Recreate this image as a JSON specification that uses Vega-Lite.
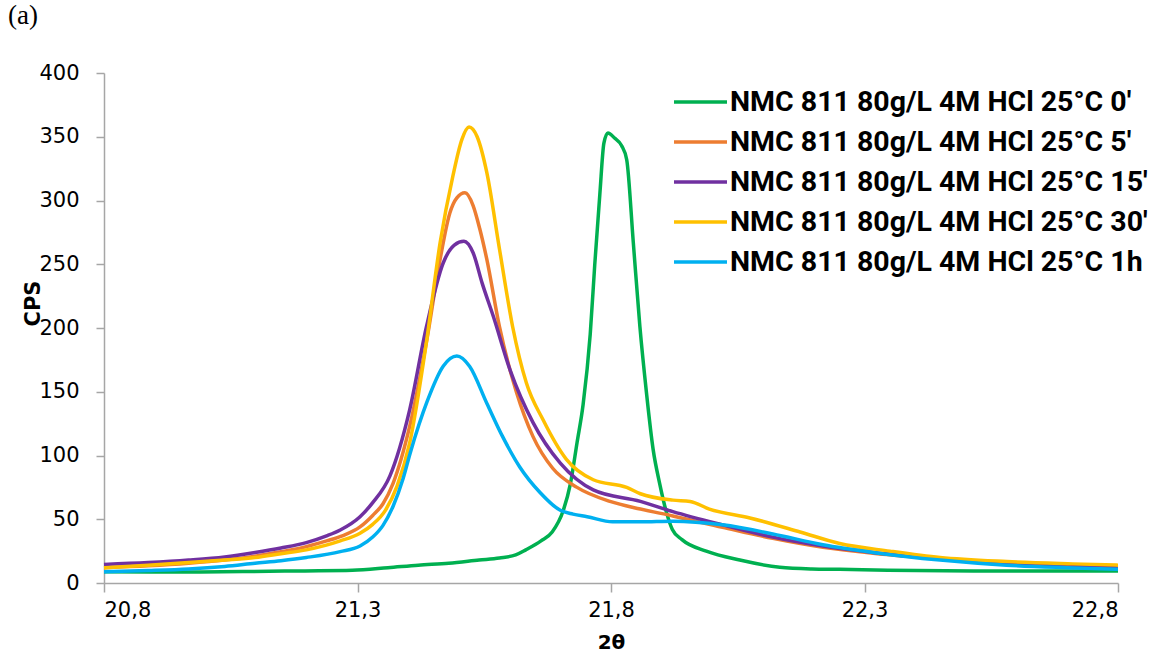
{
  "$schema": "https://vega.github.io/schema/vega-lite/v6.json",
  "width": 1014,
  "height": 510,
  "autosize": "none",
  "padding": {"left": 104, "top": 73, "right": 44, "bottom": 70},
  "background": "white",
  "title": {"text": "(a)", "anchor": "start", "frame": "group", "font": "Liberation Serif", "fontSize": 27, "fontWeight": "normal", "color": "black", "dx": -96, "offset": 0, "baseline": "alphabetic", "dy": -11},
  "config": {"view": {"stroke": null}},
  "datasets": {
    "g": [
      {"s": "NMC 811 80g/L 4M HCl 25°C 0'", "x": 20.8, "y": 8.9},
      {"s": "NMC 811 80g/L 4M HCl 25°C 0'", "x": 20.89, "y": 8.7},
      {"s": "NMC 811 80g/L 4M HCl 25°C 0'", "x": 20.99, "y": 8.7},
      {"s": "NMC 811 80g/L 4M HCl 25°C 0'", "x": 21.09, "y": 9},
      {"s": "NMC 811 80g/L 4M HCl 25°C 0'", "x": 21.19, "y": 9.5},
      {"s": "NMC 811 80g/L 4M HCl 25°C 0'", "x": 21.29, "y": 10},
      {"s": "NMC 811 80g/L 4M HCl 25°C 0'", "x": 21.36, "y": 12},
      {"s": "NMC 811 80g/L 4M HCl 25°C 0'", "x": 21.42, "y": 14},
      {"s": "NMC 811 80g/L 4M HCl 25°C 0'", "x": 21.48, "y": 15.5},
      {"s": "NMC 811 80g/L 4M HCl 25°C 0'", "x": 21.54, "y": 18},
      {"s": "NMC 811 80g/L 4M HCl 25°C 0'", "x": 21.58, "y": 19.6},
      {"s": "NMC 811 80g/L 4M HCl 25°C 0'", "x": 21.612, "y": 22},
      {"s": "NMC 811 80g/L 4M HCl 25°C 0'", "x": 21.632, "y": 26},
      {"s": "NMC 811 80g/L 4M HCl 25°C 0'", "x": 21.662, "y": 33},
      {"s": "NMC 811 80g/L 4M HCl 25°C 0'", "x": 21.684, "y": 40},
      {"s": "NMC 811 80g/L 4M HCl 25°C 0'", "x": 21.706, "y": 57},
      {"s": "NMC 811 80g/L 4M HCl 25°C 0'", "x": 21.72, "y": 78},
      {"s": "NMC 811 80g/L 4M HCl 25°C 0'", "x": 21.733, "y": 110},
      {"s": "NMC 811 80g/L 4M HCl 25°C 0'", "x": 21.745, "y": 140},
      {"s": "NMC 811 80g/L 4M HCl 25°C 0'", "x": 21.759, "y": 195},
      {"s": "NMC 811 80g/L 4M HCl 25°C 0'", "x": 21.768, "y": 250},
      {"s": "NMC 811 80g/L 4M HCl 25°C 0'", "x": 21.778, "y": 305},
      {"s": "NMC 811 80g/L 4M HCl 25°C 0'", "x": 21.786, "y": 345},
      {"s": "NMC 811 80g/L 4M HCl 25°C 0'", "x": 21.794, "y": 353},
      {"s": "NMC 811 80g/L 4M HCl 25°C 0'", "x": 21.807, "y": 349},
      {"s": "NMC 811 80g/L 4M HCl 25°C 0'", "x": 21.821, "y": 343},
      {"s": "NMC 811 80g/L 4M HCl 25°C 0'", "x": 21.831, "y": 332},
      {"s": "NMC 811 80g/L 4M HCl 25°C 0'", "x": 21.844, "y": 267},
      {"s": "NMC 811 80g/L 4M HCl 25°C 0'", "x": 21.857, "y": 201},
      {"s": "NMC 811 80g/L 4M HCl 25°C 0'", "x": 21.87, "y": 149},
      {"s": "NMC 811 80g/L 4M HCl 25°C 0'", "x": 21.883, "y": 105},
      {"s": "NMC 811 80g/L 4M HCl 25°C 0'", "x": 21.896, "y": 78},
      {"s": "NMC 811 80g/L 4M HCl 25°C 0'", "x": 21.909, "y": 56},
      {"s": "NMC 811 80g/L 4M HCl 25°C 0'", "x": 21.921, "y": 42},
      {"s": "NMC 811 80g/L 4M HCl 25°C 0'", "x": 21.94, "y": 34},
      {"s": "NMC 811 80g/L 4M HCl 25°C 0'", "x": 21.988, "y": 25},
      {"s": "NMC 811 80g/L 4M HCl 25°C 0'", "x": 22.054, "y": 18},
      {"s": "NMC 811 80g/L 4M HCl 25°C 0'", "x": 22.133, "y": 12.3},
      {"s": "NMC 811 80g/L 4M HCl 25°C 0'", "x": 22.196, "y": 11},
      {"s": "NMC 811 80g/L 4M HCl 25°C 0'", "x": 22.251, "y": 10.7},
      {"s": "NMC 811 80g/L 4M HCl 25°C 0'", "x": 22.346, "y": 10},
      {"s": "NMC 811 80g/L 4M HCl 25°C 0'", "x": 22.515, "y": 9.5},
      {"s": "NMC 811 80g/L 4M HCl 25°C 0'", "x": 22.8, "y": 9.4}
    ],
    "o": [
      {"s": "NMC 811 80g/L 4M HCl 25°C 5'", "x": 20.8, "y": 12},
      {"s": "NMC 811 80g/L 4M HCl 25°C 5'", "x": 20.887, "y": 13.5},
      {"s": "NMC 811 80g/L 4M HCl 25°C 5'", "x": 20.967, "y": 15.5},
      {"s": "NMC 811 80g/L 4M HCl 25°C 5'", "x": 21.038, "y": 18},
      {"s": "NMC 811 80g/L 4M HCl 25°C 5'", "x": 21.098, "y": 21},
      {"s": "NMC 811 80g/L 4M HCl 25°C 5'", "x": 21.149, "y": 24.5},
      {"s": "NMC 811 80g/L 4M HCl 25°C 5'", "x": 21.199, "y": 28.5},
      {"s": "NMC 811 80g/L 4M HCl 25°C 5'", "x": 21.239, "y": 33},
      {"s": "NMC 811 80g/L 4M HCl 25°C 5'", "x": 21.27, "y": 37},
      {"s": "NMC 811 80g/L 4M HCl 25°C 5'", "x": 21.305, "y": 44},
      {"s": "NMC 811 80g/L 4M HCl 25°C 5'", "x": 21.33, "y": 53},
      {"s": "NMC 811 80g/L 4M HCl 25°C 5'", "x": 21.35, "y": 62},
      {"s": "NMC 811 80g/L 4M HCl 25°C 5'", "x": 21.37, "y": 78},
      {"s": "NMC 811 80g/L 4M HCl 25°C 5'", "x": 21.403, "y": 123},
      {"s": "NMC 811 80g/L 4M HCl 25°C 5'", "x": 21.436, "y": 189},
      {"s": "NMC 811 80g/L 4M HCl 25°C 5'", "x": 21.463, "y": 254},
      {"s": "NMC 811 80g/L 4M HCl 25°C 5'", "x": 21.482, "y": 290},
      {"s": "NMC 811 80g/L 4M HCl 25°C 5'", "x": 21.496, "y": 302},
      {"s": "NMC 811 80g/L 4M HCl 25°C 5'", "x": 21.512, "y": 306},
      {"s": "NMC 811 80g/L 4M HCl 25°C 5'", "x": 21.528, "y": 296},
      {"s": "NMC 811 80g/L 4M HCl 25°C 5'", "x": 21.541, "y": 278},
      {"s": "NMC 811 80g/L 4M HCl 25°C 5'", "x": 21.555, "y": 254},
      {"s": "NMC 811 80g/L 4M HCl 25°C 5'", "x": 21.58, "y": 201},
      {"s": "NMC 811 80g/L 4M HCl 25°C 5'", "x": 21.614, "y": 149},
      {"s": "NMC 811 80g/L 4M HCl 25°C 5'", "x": 21.646, "y": 115},
      {"s": "NMC 811 80g/L 4M HCl 25°C 5'", "x": 21.685, "y": 90},
      {"s": "NMC 811 80g/L 4M HCl 25°C 5'", "x": 21.733, "y": 75},
      {"s": "NMC 811 80g/L 4M HCl 25°C 5'", "x": 21.798, "y": 64},
      {"s": "NMC 811 80g/L 4M HCl 25°C 5'", "x": 21.858, "y": 58},
      {"s": "NMC 811 80g/L 4M HCl 25°C 5'", "x": 21.922, "y": 52.6},
      {"s": "NMC 811 80g/L 4M HCl 25°C 5'", "x": 22.02, "y": 43.7},
      {"s": "NMC 811 80g/L 4M HCl 25°C 5'", "x": 22.119, "y": 35},
      {"s": "NMC 811 80g/L 4M HCl 25°C 5'", "x": 22.218, "y": 28},
      {"s": "NMC 811 80g/L 4M HCl 25°C 5'", "x": 22.317, "y": 23.3},
      {"s": "NMC 811 80g/L 4M HCl 25°C 5'", "x": 22.449, "y": 19},
      {"s": "NMC 811 80g/L 4M HCl 25°C 5'", "x": 22.58, "y": 16},
      {"s": "NMC 811 80g/L 4M HCl 25°C 5'", "x": 22.699, "y": 14},
      {"s": "NMC 811 80g/L 4M HCl 25°C 5'", "x": 22.8, "y": 13}
    ],
    "p": [
      {"s": "NMC 811 80g/L 4M HCl 25°C 15'", "x": 20.8, "y": 14.5},
      {"s": "NMC 811 80g/L 4M HCl 25°C 15'", "x": 20.887, "y": 16},
      {"s": "NMC 811 80g/L 4M HCl 25°C 15'", "x": 20.967, "y": 18},
      {"s": "NMC 811 80g/L 4M HCl 25°C 15'", "x": 21.038, "y": 20.5},
      {"s": "NMC 811 80g/L 4M HCl 25°C 15'", "x": 21.098, "y": 24},
      {"s": "NMC 811 80g/L 4M HCl 25°C 15'", "x": 21.149, "y": 27.5},
      {"s": "NMC 811 80g/L 4M HCl 25°C 15'", "x": 21.199, "y": 31.7},
      {"s": "NMC 811 80g/L 4M HCl 25°C 15'", "x": 21.239, "y": 37},
      {"s": "NMC 811 80g/L 4M HCl 25°C 15'", "x": 21.266, "y": 41.6},
      {"s": "NMC 811 80g/L 4M HCl 25°C 15'", "x": 21.305, "y": 52},
      {"s": "NMC 811 80g/L 4M HCl 25°C 15'", "x": 21.33, "y": 63},
      {"s": "NMC 811 80g/L 4M HCl 25°C 15'", "x": 21.364, "y": 84},
      {"s": "NMC 811 80g/L 4M HCl 25°C 15'", "x": 21.403, "y": 136},
      {"s": "NMC 811 80g/L 4M HCl 25°C 15'", "x": 21.436, "y": 201},
      {"s": "NMC 811 80g/L 4M HCl 25°C 15'", "x": 21.469, "y": 251},
      {"s": "NMC 811 80g/L 4M HCl 25°C 15'", "x": 21.491, "y": 265},
      {"s": "NMC 811 80g/L 4M HCl 25°C 15'", "x": 21.51, "y": 268},
      {"s": "NMC 811 80g/L 4M HCl 25°C 15'", "x": 21.528, "y": 259},
      {"s": "NMC 811 80g/L 4M HCl 25°C 15'", "x": 21.546, "y": 235},
      {"s": "NMC 811 80g/L 4M HCl 25°C 15'", "x": 21.568, "y": 209},
      {"s": "NMC 811 80g/L 4M HCl 25°C 15'", "x": 21.601, "y": 167},
      {"s": "NMC 811 80g/L 4M HCl 25°C 15'", "x": 21.646, "y": 126},
      {"s": "NMC 811 80g/L 4M HCl 25°C 15'", "x": 21.7, "y": 94},
      {"s": "NMC 811 80g/L 4M HCl 25°C 15'", "x": 21.765, "y": 73},
      {"s": "NMC 811 80g/L 4M HCl 25°C 15'", "x": 21.858, "y": 64},
      {"s": "NMC 811 80g/L 4M HCl 25°C 15'", "x": 21.922, "y": 56},
      {"s": "NMC 811 80g/L 4M HCl 25°C 15'", "x": 22.02, "y": 45.6},
      {"s": "NMC 811 80g/L 4M HCl 25°C 15'", "x": 22.119, "y": 36},
      {"s": "NMC 811 80g/L 4M HCl 25°C 15'", "x": 22.218, "y": 29},
      {"s": "NMC 811 80g/L 4M HCl 25°C 15'", "x": 22.317, "y": 24},
      {"s": "NMC 811 80g/L 4M HCl 25°C 15'", "x": 22.449, "y": 19},
      {"s": "NMC 811 80g/L 4M HCl 25°C 15'", "x": 22.58, "y": 15},
      {"s": "NMC 811 80g/L 4M HCl 25°C 15'", "x": 22.699, "y": 13.5},
      {"s": "NMC 811 80g/L 4M HCl 25°C 15'", "x": 22.8, "y": 12.5}
    ],
    "yel": [
      {"s": "NMC 811 80g/L 4M HCl 25°C 30'", "x": 20.8, "y": 12},
      {"s": "NMC 811 80g/L 4M HCl 25°C 30'", "x": 20.887, "y": 14},
      {"s": "NMC 811 80g/L 4M HCl 25°C 30'", "x": 20.967, "y": 16},
      {"s": "NMC 811 80g/L 4M HCl 25°C 30'", "x": 21.038, "y": 18},
      {"s": "NMC 811 80g/L 4M HCl 25°C 30'", "x": 21.098, "y": 20},
      {"s": "NMC 811 80g/L 4M HCl 25°C 30'", "x": 21.149, "y": 23},
      {"s": "NMC 811 80g/L 4M HCl 25°C 30'", "x": 21.199, "y": 26},
      {"s": "NMC 811 80g/L 4M HCl 25°C 30'", "x": 21.266, "y": 33},
      {"s": "NMC 811 80g/L 4M HCl 25°C 30'", "x": 21.305, "y": 39},
      {"s": "NMC 811 80g/L 4M HCl 25°C 30'", "x": 21.33, "y": 46},
      {"s": "NMC 811 80g/L 4M HCl 25°C 30'", "x": 21.355, "y": 57},
      {"s": "NMC 811 80g/L 4M HCl 25°C 30'", "x": 21.378, "y": 76},
      {"s": "NMC 811 80g/L 4M HCl 25°C 30'", "x": 21.403, "y": 110},
      {"s": "NMC 811 80g/L 4M HCl 25°C 30'", "x": 21.436, "y": 189},
      {"s": "NMC 811 80g/L 4M HCl 25°C 30'", "x": 21.463, "y": 267},
      {"s": "NMC 811 80g/L 4M HCl 25°C 30'", "x": 21.488, "y": 319},
      {"s": "NMC 811 80g/L 4M HCl 25°C 30'", "x": 21.506, "y": 348},
      {"s": "NMC 811 80g/L 4M HCl 25°C 30'", "x": 21.52, "y": 357.6},
      {"s": "NMC 811 80g/L 4M HCl 25°C 30'", "x": 21.536, "y": 350},
      {"s": "NMC 811 80g/L 4M HCl 25°C 30'", "x": 21.555, "y": 322},
      {"s": "NMC 811 80g/L 4M HCl 25°C 30'", "x": 21.58, "y": 262},
      {"s": "NMC 811 80g/L 4M HCl 25°C 30'", "x": 21.606, "y": 201},
      {"s": "NMC 811 80g/L 4M HCl 25°C 30'", "x": 21.633, "y": 157},
      {"s": "NMC 811 80g/L 4M HCl 25°C 30'", "x": 21.666, "y": 128},
      {"s": "NMC 811 80g/L 4M HCl 25°C 30'", "x": 21.712, "y": 97},
      {"s": "NMC 811 80g/L 4M HCl 25°C 30'", "x": 21.765, "y": 81},
      {"s": "NMC 811 80g/L 4M HCl 25°C 30'", "x": 21.831, "y": 75},
      {"s": "NMC 811 80g/L 4M HCl 25°C 30'", "x": 21.858, "y": 70},
      {"s": "NMC 811 80g/L 4M HCl 25°C 30'", "x": 21.922, "y": 65},
      {"s": "NMC 811 80g/L 4M HCl 25°C 30'", "x": 21.956, "y": 64},
      {"s": "NMC 811 80g/L 4M HCl 25°C 30'", "x": 21.994, "y": 58},
      {"s": "NMC 811 80g/L 4M HCl 25°C 30'", "x": 22.074, "y": 51},
      {"s": "NMC 811 80g/L 4M HCl 25°C 30'", "x": 22.173, "y": 40},
      {"s": "NMC 811 80g/L 4M HCl 25°C 30'", "x": 22.251, "y": 31},
      {"s": "NMC 811 80g/L 4M HCl 25°C 30'", "x": 22.35, "y": 25},
      {"s": "NMC 811 80g/L 4M HCl 25°C 30'", "x": 22.449, "y": 20},
      {"s": "NMC 811 80g/L 4M HCl 25°C 30'", "x": 22.581, "y": 16.8},
      {"s": "NMC 811 80g/L 4M HCl 25°C 30'", "x": 22.711, "y": 15},
      {"s": "NMC 811 80g/L 4M HCl 25°C 30'", "x": 22.8, "y": 14}
    ],
    "b": [
      {"s": "NMC 811 80g/L 4M HCl 25°C 1h", "x": 20.8, "y": 8.9},
      {"s": "NMC 811 80g/L 4M HCl 25°C 1h", "x": 20.887, "y": 9.8},
      {"s": "NMC 811 80g/L 4M HCl 25°C 1h", "x": 20.967, "y": 11},
      {"s": "NMC 811 80g/L 4M HCl 25°C 1h", "x": 21.038, "y": 13},
      {"s": "NMC 811 80g/L 4M HCl 25°C 1h", "x": 21.098, "y": 15.5},
      {"s": "NMC 811 80g/L 4M HCl 25°C 1h", "x": 21.149, "y": 17.5},
      {"s": "NMC 811 80g/L 4M HCl 25°C 1h", "x": 21.199, "y": 20},
      {"s": "NMC 811 80g/L 4M HCl 25°C 1h", "x": 21.266, "y": 24.6},
      {"s": "NMC 811 80g/L 4M HCl 25°C 1h", "x": 21.305, "y": 29},
      {"s": "NMC 811 80g/L 4M HCl 25°C 1h", "x": 21.33, "y": 36},
      {"s": "NMC 811 80g/L 4M HCl 25°C 1h", "x": 21.35, "y": 45},
      {"s": "NMC 811 80g/L 4M HCl 25°C 1h", "x": 21.37, "y": 60},
      {"s": "NMC 811 80g/L 4M HCl 25°C 1h", "x": 21.39, "y": 82},
      {"s": "NMC 811 80g/L 4M HCl 25°C 1h", "x": 21.404, "y": 102},
      {"s": "NMC 811 80g/L 4M HCl 25°C 1h", "x": 21.437, "y": 142},
      {"s": "NMC 811 80g/L 4M HCl 25°C 1h", "x": 21.469, "y": 170},
      {"s": "NMC 811 80g/L 4M HCl 25°C 1h", "x": 21.496, "y": 178},
      {"s": "NMC 811 80g/L 4M HCl 25°C 1h", "x": 21.521, "y": 170},
      {"s": "NMC 811 80g/L 4M HCl 25°C 1h", "x": 21.555, "y": 141},
      {"s": "NMC 811 80g/L 4M HCl 25°C 1h", "x": 21.586, "y": 115},
      {"s": "NMC 811 80g/L 4M HCl 25°C 1h", "x": 21.62, "y": 91},
      {"s": "NMC 811 80g/L 4M HCl 25°C 1h", "x": 21.66, "y": 71},
      {"s": "NMC 811 80g/L 4M HCl 25°C 1h", "x": 21.7, "y": 57},
      {"s": "NMC 811 80g/L 4M HCl 25°C 1h", "x": 21.725, "y": 54},
      {"s": "NMC 811 80g/L 4M HCl 25°C 1h", "x": 21.753, "y": 52},
      {"s": "NMC 811 80g/L 4M HCl 25°C 1h", "x": 21.803, "y": 48},
      {"s": "NMC 811 80g/L 4M HCl 25°C 1h", "x": 21.858, "y": 48},
      {"s": "NMC 811 80g/L 4M HCl 25°C 1h", "x": 21.922, "y": 48.5},
      {"s": "NMC 811 80g/L 4M HCl 25°C 1h", "x": 22.02, "y": 45.6},
      {"s": "NMC 811 80g/L 4M HCl 25°C 1h", "x": 22.119, "y": 38.5},
      {"s": "NMC 811 80g/L 4M HCl 25°C 1h", "x": 22.218, "y": 30},
      {"s": "NMC 811 80g/L 4M HCl 25°C 1h", "x": 22.317, "y": 24},
      {"s": "NMC 811 80g/L 4M HCl 25°C 1h", "x": 22.449, "y": 18},
      {"s": "NMC 811 80g/L 4M HCl 25°C 1h", "x": 22.58, "y": 14},
      {"s": "NMC 811 80g/L 4M HCl 25°C 1h", "x": 22.699, "y": 12},
      {"s": "NMC 811 80g/L 4M HCl 25°C 1h", "x": 22.8, "y": 10.7}
    ]
  },
  "layer": [
    {"data": {"name": "g"}, "mark": {"type": "line", "interpolate": "monotone", "strokeWidth": 3.5}, "encoding": {
      "x": {"field": "x", "type": "quantitative", "scale": {"domain": [20.8, 22.8], "nice": false, "zero": false},
        "axis": {"values": [20.8, 21.3, 21.8, 22.3, 22.8], "labelExpr": "replace(format(datum.value, '.1f'), '.', ',')", "grid": false, "domainColor": "#a6a6a6", "domainWidth": 1.5, "tickColor": "#a6a6a6", "tickWidth": 1.5, "tickSize": 9, "labelFont": "DejaVu Sans", "labelFontSize": 21, "labelColor": "black", "labelBaseline": "alphabetic", "labelPadding": 24, "title": "2θ", "titleFont": "DejaVu Sans", "titleFontSize": 20, "titleFontWeight": "bold", "titleColor": "black", "titleBaseline": "alphabetic", "titleY": 65}},
      "y": {"field": "y", "type": "quantitative", "scale": {"domain": [0, 400], "nice": false},
        "axis": {"values": [0, 50, 100, 150, 200, 250, 300, 350, 400], "grid": false, "domainColor": "#a6a6a6", "domainWidth": 1.5, "tickColor": "#a6a6a6", "tickWidth": 1.5, "tickSize": 8, "labelFont": "DejaVu Sans", "labelFontSize": 21, "labelColor": "black", "labelPadding": 17, "title": "CPS", "titleFont": "DejaVu Sans", "titleFontSize": 21, "titleFontWeight": "bold", "titleColor": "black", "titleX": -61, "titleY": 230}},
      "color": {"field": "s", "type": "nominal",
        "scale": {"domain": ["NMC 811 80g/L 4M HCl 25°C 0'", "NMC 811 80g/L 4M HCl 25°C 5'", "NMC 811 80g/L 4M HCl 25°C 15'", "NMC 811 80g/L 4M HCl 25°C 30'", "NMC 811 80g/L 4M HCl 25°C 1h"], "range": ["#00b050", "#ed7d31", "#7030a0", "#ffc000", "#00b0f0"]},
        "legend": {"orient": "none", "legendX": 568, "legendY": 9, "title": null, "symbolType": "stroke", "symbolSize": 2809, "symbolStrokeWidth": 3.5, "labelFont": "Roboto", "labelFontSize": 28.5, "labelFontWeight": "bold", "labelColor": "black", "labelOffset": 1, "labelLimit": 600, "clipHeight": 40, "rowPadding": 0, "padding": 0}}
    }},
    {"data": {"name": "o"}, "mark": {"type": "line", "interpolate": "monotone", "strokeWidth": 3.5}, "encoding": {"x": {"field": "x", "type": "quantitative"}, "y": {"field": "y", "type": "quantitative"}, "color": {"field": "s", "type": "nominal"}}},
    {"data": {"name": "p"}, "mark": {"type": "line", "interpolate": "monotone", "strokeWidth": 3.5}, "encoding": {"x": {"field": "x", "type": "quantitative"}, "y": {"field": "y", "type": "quantitative"}, "color": {"field": "s", "type": "nominal"}}},
    {"data": {"name": "yel"}, "mark": {"type": "line", "interpolate": "monotone", "strokeWidth": 3.5}, "encoding": {"x": {"field": "x", "type": "quantitative"}, "y": {"field": "y", "type": "quantitative"}, "color": {"field": "s", "type": "nominal"}}},
    {"data": {"name": "b"}, "mark": {"type": "line", "interpolate": "monotone", "strokeWidth": 3.5}, "encoding": {"x": {"field": "x", "type": "quantitative"}, "y": {"field": "y", "type": "quantitative"}, "color": {"field": "s", "type": "nominal"}}}
  ]
}
